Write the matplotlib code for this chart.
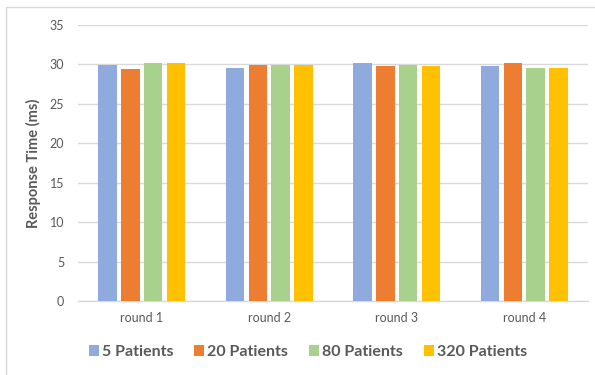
import matplotlib
matplotlib.use("Agg")
import matplotlib.pyplot as plt
import numpy as np
from matplotlib.patches import Rectangle

plt.rcParams['font.family'] = ['Lato', 'DejaVu Sans']

categories = ["round 1", "round 2", "round 3", "round 4"]
series_names = ["5 Patients", "20 Patients", "80 Patients", "320 Patients"]
p5 = [29.95, 29.55, 30.18, 29.8]
p20 = [29.38, 29.97, 29.8, 30.18]
p80 = [30.18, 29.97, 29.97, 29.55]
p320 = [30.18, 29.97, 29.8, 29.55]
colors = ["#8FAADC", "#ED7D31", "#A9D18E", "#FFC000"]

series = [p5, p20, p80, p320]

fig = plt.figure(figsize=(5.95, 3.75), dpi=100)
ax = fig.add_axes([78/595, 1-301/375, (588-78)/595, (301-25)/375])

# chart frame
fig.patches.append(Rectangle((6/595, -0.1), 1.2, 1-7/375+0.1, transform=fig.transFigure,
                             fill=False, edgecolor="#D9D9D9", linewidth=1.0))

x = np.arange(len(categories))
step = 0.18
width = 0.145
for i, (name, vals, c) in enumerate(zip(series_names, series, colors)):
    ax.bar(x + (i - 1.5) * step, vals, width=width, color=c, label=name, zorder=3)

ax.set_xlim(-0.5, len(categories) - 0.5)
ax.set_ylim(0, 35)
ax.set_yticks(np.arange(0, 36, 5))
ax.set_xticks(x)
ax.set_xticklabels(categories)
ax.yaxis.grid(True, color="#D9D9D9", linewidth=1.0, zorder=0)
ax.set_axisbelow(True)
for s in ["top", "right", "left"]:
    ax.spines[s].set_visible(False)
ax.spines["bottom"].set_color("#D9D9D9")
ax.spines["bottom"].set_linewidth(1.0)
ax.tick_params(axis="both", length=0, labelsize=9, labelcolor="#595959")
ax.tick_params(axis="y", pad=10)
ax.tick_params(axis="x", pad=8)

ax.set_ylabel("Response Time (ms)", fontsize=10.5, fontweight="bold", color="#595959", labelpad=6)

leg = fig.legend(loc="center", bbox_to_anchor=(308/595, 1-352/375), ncol=4, frameon=False,
                 handlelength=0.62, handleheight=0.62, handletextpad=0.2, columnspacing=1.3,
                 prop={"size": 11.5, "weight": "bold"})
for t in leg.get_texts():
    t.set_color("#595959")

fig.savefig("out.png", dpi=100)
